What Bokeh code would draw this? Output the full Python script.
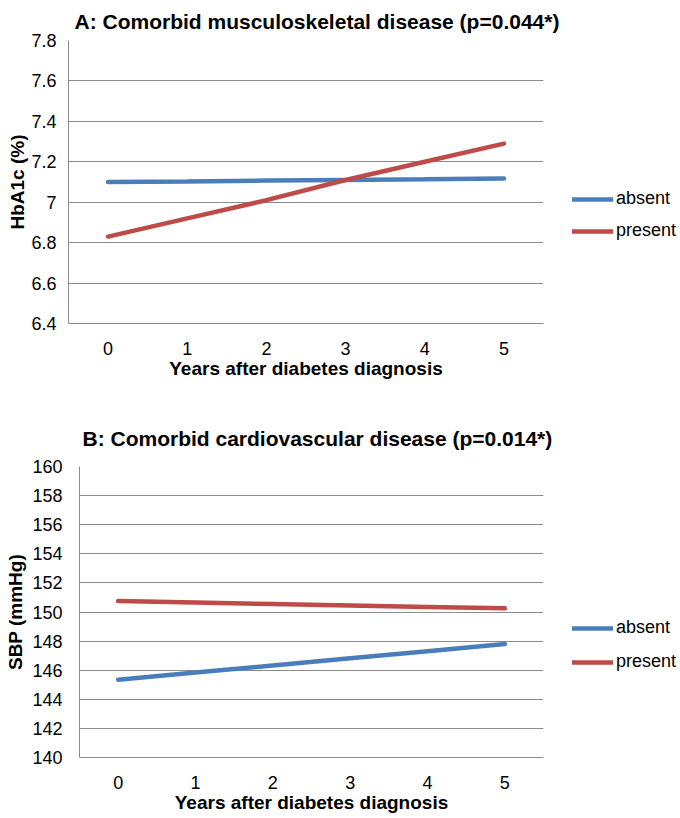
from bokeh.plotting import figure
from bokeh.models import Range1d, FixedTicker, Legend, LegendItem, Title
from bokeh.embed import file_html
from bokeh.resources import INLINE

years = [0, 1, 2, 3, 4, 5]

# Panel A: HbA1c (%)
a_absent = [7.10, 7.103, 7.107, 7.11, 7.113, 7.117]
a_present = [6.83, 6.92, 7.01, 7.11, 7.20, 7.29]
a_ticks = [6.4, 6.6, 6.8, 7.0, 7.2, 7.4, 7.6, 7.8]

# Panel B: SBP (mmHg)
b_absent = [145.35, 145.84, 146.33, 146.82, 147.31, 147.8]
b_present = [150.75, 150.65, 150.55, 150.45, 150.35, 150.25]
b_ticks = [140, 142, 144, 146, 148, 150, 152, 154, 156, 158, 160]

series_labels = ["absent", "present"]
BLUE = "#4A7EBB"
RED = "#BE4B48"
GRID = "#8C8C8C"
FONT = "Liberation Sans"


def make_panel(title, ylabel, yvals_abs, yvals_pre, yticks, left, frame_w, top,
               frame_h, bottom, title_off, title_standoff,
               ylab_standoff, ytick_standoff, leg_loc, leg_spacing, fmt):
    p = figure(output_backend="svg", toolbar_location=None,
               frame_width=frame_w, frame_height=frame_h,
               min_border_left=left, min_border_right=130,
               min_border_top=top, min_border_bottom=bottom,
               x_range=Range1d(-0.5, 5.5),
               y_range=Range1d(yticks[0], yticks[-1]))
    p.title = Title(text=title, text_font=FONT, text_font_size="21px",
                    text_font_style="bold", text_color="#000000",
                    align="left", offset=title_off, standoff=title_standoff)
    p.outline_line_color = None
    p.background_fill_color = "white"
    p.border_fill_color = "white"

    p.xgrid.grid_line_color = None
    p.ygrid.grid_line_color = GRID
    p.ygrid.grid_line_width = 1
    p.yaxis.ticker = FixedTicker(ticks=yticks)
    p.xaxis.ticker = FixedTicker(ticks=years)
    p.yaxis.major_label_overrides = {t: fmt(t) for t in yticks}

    for ax in (p.xaxis, p.yaxis):
        ax.axis_line_color = GRID
        ax.axis_line_width = 1
        ax.major_tick_line_color = None
        ax.minor_tick_line_color = None
        ax.major_tick_out = 0
        ax.major_tick_in = 0
        ax.minor_tick_out = 0
        ax.minor_tick_in = 0
        ax.major_label_text_font = FONT
        ax.major_label_text_font_size = "18px"
        ax.major_label_text_color = "#000000"
        ax.axis_label_text_font = FONT
        ax.axis_label_text_font_size = "19px"
        ax.axis_label_text_font_style = "bold"
        ax.axis_label_text_color = "#000000"

    p.xaxis.axis_label = "Years after diabetes diagnosis"
    p.xaxis.major_label_standoff = 18
    p.xaxis.axis_label_standoff = 0
    p.yaxis.axis_label = ylabel
    p.yaxis.major_label_standoff = ytick_standoff
    p.yaxis.axis_label_standoff = ylab_standoff

    r1 = p.line(years, yvals_abs, line_color=BLUE, line_width=4.5, line_cap="round")
    r2 = p.line(years, yvals_pre, line_color=RED, line_width=4.5, line_cap="round")

    leg = Legend(items=[LegendItem(label=series_labels[0], renderers=[r1]),
                        LegendItem(label=series_labels[1], renderers=[r2])],
                 location=leg_loc, padding=0, margin=0,
                 glyph_width=41, glyph_height=20, label_height=20,
                 label_standoff=3, spacing=leg_spacing,
                 label_text_font=FONT, label_text_font_size="18px",
                 label_text_color="#000000",
                 border_line_color=None, background_fill_alpha=0)
    p.add_layout(leg, "right")
    return p


pA = make_panel("A: Comorbid musculoskeletal disease (p=0.044*)\n ", "HbA1c (%)",
                a_absent, a_present, a_ticks,
                left=68, frame_w=475, top=40, frame_h=283, bottom=60,
                title_off=6, title_standoff=-30,
                ylab_standoff=0, ytick_standoff=12, leg_loc=(29, 82),
                leg_spacing=11,
                fmt=lambda t: ("7" if abs(t - 7.0) < 1e-9 else f"{t:.1f}"))
pB = make_panel("B: Comorbid cardiovascular disease (p=0.014*)", "SBP (mmHg)",
                b_absent, b_present, b_ticks,
                left=79, frame_w=464, top=83, frame_h=291, bottom=60,
                title_off=3, title_standoff=33,
                ylab_standoff=3, ytick_standoff=17, leg_loc=(29, 85),
                leg_spacing=13,
                fmt=lambda t: f"{t:d}")

open("out.html", "w").write(file_html([pA, pB], INLINE))
